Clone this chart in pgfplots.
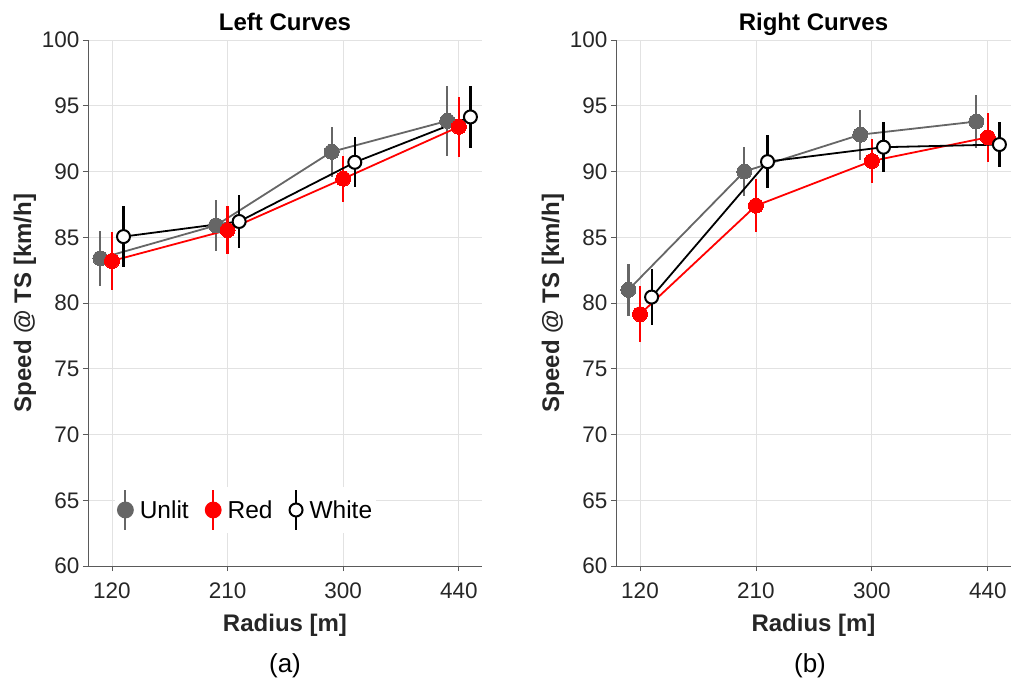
\documentclass[border=0pt]{standalone}
\usepackage{fontspec}
\setmainfont{Liberation Sans}
\usepackage{pgfplots}
\usepackage{pgfplotstable}
\pgfplotsset{compat=1.18}

\definecolor{unlit}{RGB}{102,102,102}
\definecolor{txt}{RGB}{38,38,38}
\definecolor{spine}{RGB}{90,90,90}
\definecolor{gridc}{RGB}{226,226,226}

\pgfplotstableread{
x y e
-0.1 83.40 2.10
0.9 85.90 1.95
1.9 91.50 1.90
2.9 93.85 2.65
}\LeftUnlit
\pgfplotstableread{
x y e
0 83.20 2.20
1 85.55 1.85
2 89.45 1.75
3 93.40 2.30
}\LeftRed
\pgfplotstableread{
x y e
0.1 85.05 2.30
1.1 86.20 2.00
2.1 90.70 1.90
3.1 94.15 2.35
}\LeftWhite
\pgfplotstableread{
x y e
-0.1 81.00 2.00
0.9 90.00 1.90
1.9 92.80 1.90
2.9 93.80 2.00
}\RightUnlit
\pgfplotstableread{
x y e
0 79.15 2.15
1 87.40 2.00
2 90.80 1.65
3 92.60 1.85
}\RightRed
\pgfplotstableread{
x y e
0.1 80.45 2.10
1.1 90.75 2.00
2.1 91.85 1.90
3.1 92.05 1.70
}\RightWhite

\pgfplotsset{
 myaxis/.style={
  scale only axis, height=526pt,
  xmin=-0.207, xmax=3.2, ymin=60, ymax=100,
  xtick={0,1,2,3}, xticklabels={120,210,300,440},
  ytick={60,65,...,100},
  axis lines*=left,
  axis line style={spine, line width=0.8pt},
  tick style={spine, line width=0.8pt},
  tick align=outside, major tick length=5pt,
  xmajorgrids, ymajorgrids, grid style={gridc, line width=0.8pt},
  tick label style={font=\fontsize{22.5}{26}\selectfont, text=txt},
  xticklabel style={yshift=-8pt},
  /pgf/number format/assume math mode=true,
  every axis x label/.style={at={(axis description cs:0.5,-0.112)}, anchor=center},
  every axis y label/.style={at={(axis description cs:-0.16,0.5)}, rotate=90, anchor=center},
  label style={font=\bfseries\fontsize{24}{28}\selectfont, text=txt},
  every axis title/.style={at={(axis description cs:0.5,1.019)}, anchor=base},
  title style={font=\bfseries\fontsize{24}{28}\selectfont},
  xlabel={Radius [m]}, ylabel={Speed @ TS [km/h]},
  clip=false,
 },
 unlitplot/.style={color=unlit, line width=1.8pt, mark=*, mark size=7.5pt,
   mark options={fill=unlit, draw=unlit, line width=0pt},
   error bars/y dir=both, error bars/y explicit, error bars/error mark=none,
   error bars/error bar style={line width=2.2pt, unlit}},
 redplot/.style={color=red, line width=1.8pt, mark=*, mark size=7.5pt,
   mark options={fill=red, draw=red, line width=0pt},
   error bars/y dir=both, error bars/y explicit, error bars/error mark=none,
   error bars/error bar style={line width=2.2pt, red}},
 whiteplot/.style={color=black, line width=1.8pt, mark=*, mark size=6.5pt,
   mark options={fill=white, draw=black, line width=2pt},
   error bars/y dir=both, error bars/y explicit, error bars/error mark=none,
   error bars/error bar style={line width=2.2pt, black}},
}

\begin{document}
\begin{tikzpicture}
\useasboundingbox (0pt,0pt) rectangle (1011pt,-685pt);

\begin{axis}[myaxis, width=394pt, at={(88pt,-566pt)}, anchor=south west,
  title={Left Curves},
  legend columns=-1,
  legend style={draw=none, fill=white, at={(axis description cs:0.068,0.1065)}, anchor=west,
    font=\fontsize{24.5}{28}\selectfont, inner sep=2pt,
    /tikz/every even column/.append style={column sep=14pt},
    /tikz/every odd column/.append style={column sep=4pt}},
  ]
\addplot[unlitplot, legend image code/.code={
  \draw[unlit, line width=2pt] (0pt,-20pt) -- (0pt,20pt);
  \fill[unlit] (0pt,0pt) circle (7.5pt);}] table[x=x, y=y, y error=e] {\LeftUnlit};
\addlegendentry{Unlit}
\addplot[redplot, legend image code/.code={
  \draw[red, line width=2pt] (0pt,-20pt) -- (0pt,20pt);
  \fill[red] (0pt,0pt) circle (7.5pt);}] table[x=x, y=y, y error=e] {\LeftRed};
\addlegendentry{Red}
\addplot[whiteplot, legend image code/.code={
  \draw[black, line width=2pt] (0pt,-20pt) -- (0pt,20pt);
  \filldraw[fill=white, draw=black, line width=2pt] (0pt,0pt) circle (6.5pt);}] table[x=x, y=y, y error=e] {\LeftWhite};
\addlegendentry{White}
\end{axis}

\begin{axis}[myaxis, width=395pt, at={(616pt,-566pt)}, anchor=south west,
  title={Right Curves}]
\addplot[unlitplot] table[x=x, y=y, y error=e] {\RightUnlit};
\addplot[redplot] table[x=x, y=y, y error=e] {\RightRed};
\addplot[whiteplot] table[x=x, y=y, y error=e] {\RightWhite};
\end{axis}

\node[font=\fontsize{26}{30}\selectfont, text=black] at (285pt,-666pt) {(a)};
\node[font=\fontsize{26}{30}\selectfont, text=black] at (810pt,-666pt) {(b)};
\end{tikzpicture}
\end{document}
